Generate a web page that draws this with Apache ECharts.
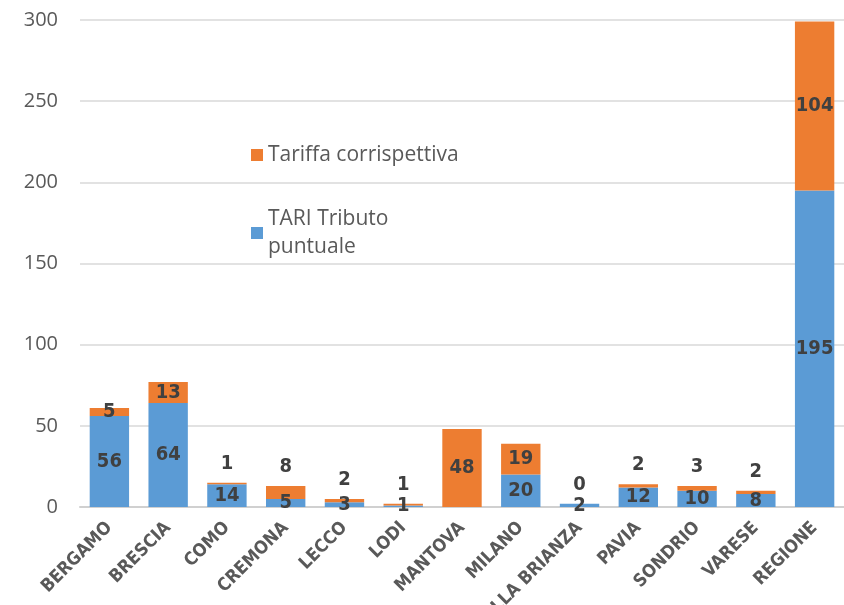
<!DOCTYPE html>
<html><head><meta charset="utf-8">
<script src="https://cdn.jsdelivr.net/npm/echarts@6/dist/echarts.min.js"></script>
<style>html,body{margin:0;padding:0;background:#fff}#c{width:844px;height:605px}</style>
</head><body><div id="c"></div>
<script>
const categories = ['BERGAMO','BRESCIA','COMO','CREMONA','LECCO','LODI','MANTOVA','MILANO','MONZA E DELLA BRIANZA','PAVIA','SONDRIO','VARESE','REGIONE'];
const tariValues = [56,64,14,5,3,1,0,20,2,12,10,8,195];
const tariffaValues = [5,13,1,8,2,1,48,19,0,2,3,2,104];
const yTicks = [0,50,100,150,200,250,300];
const insideOrange = ['BERGAMO','BRESCIA','MANTOVA','MILANO','REGIONE'];

const font = 'Liberation Sans Narrow, DejaVu Sans Condensed, sans-serif';
const labelBase = {show:true, fontFamily:font, fontWeight:'bold', fontSize:20, color:'#404040'};

const chart = echarts.init(document.getElementById('c'));
chart.setOption({
  animation:false,
  grid:{left:80, right:0, top:20, bottom:98, outerBoundsMode:'none', containLabel:false},
  legend:{
    orient:'vertical', left:246, top:136, itemGap:36, itemWidth:12, itemHeight:12,
    icon:'rect',
    data:['Tariffa corrispettiva','TARI Tributo\npuntuale'],
    textStyle:{fontFamily:'Open Sans, sans-serif', fontSize:21, color:'#595959', lineHeight:28}
  },
  xAxis:{
    type:'category', data:categories,
    axisTick:{show:false},
    axisLine:{lineStyle:{color:'#d0d0d0', width:2}},
    axisLabel:{rotate:45, interval:0, margin:18, fontFamily:font, fontWeight:'bold', fontSize:18, color:'#595959'}
  },
  yAxis:{
    type:'value', min:0, max:300, interval:50,
    axisLine:{show:false}, axisTick:{show:false},
    splitLine:{lineStyle:{color:'#d9d9d9', width:1.5}},
    axisLabel:{margin:22, fontFamily:'Open Sans, sans-serif', fontSize:20, color:'#595959',
      formatter:v=> yTicks.includes(v) ? String(v) : ''}
  },
  series:[
    {
      name:'TARI Tributo\npuntuale', type:'bar', stack:'s', barWidth:'67%',
      itemStyle:{color:'#5b9bd5'},
      data:tariValues,
      label:Object.assign({}, labelBase, {position:'inside', formatter:p=> p.value===0 ? '' : String(p.value)})
    },
    {
      name:'Tariffa corrispettiva', type:'bar', stack:'s', barWidth:'67%',
      itemStyle:{color:'#ed7d31'},
      data:tariffaValues.map((v,i)=>{
        const inside = insideOrange.includes(categories[i]);
        return {value:v, label: inside ? {position:'inside'} : {position:'top', distance:9}};
      }),
      label:Object.assign({}, labelBase, {formatter:p=> String(p.value)})
    }
  ]
});
</script>
</body></html>
